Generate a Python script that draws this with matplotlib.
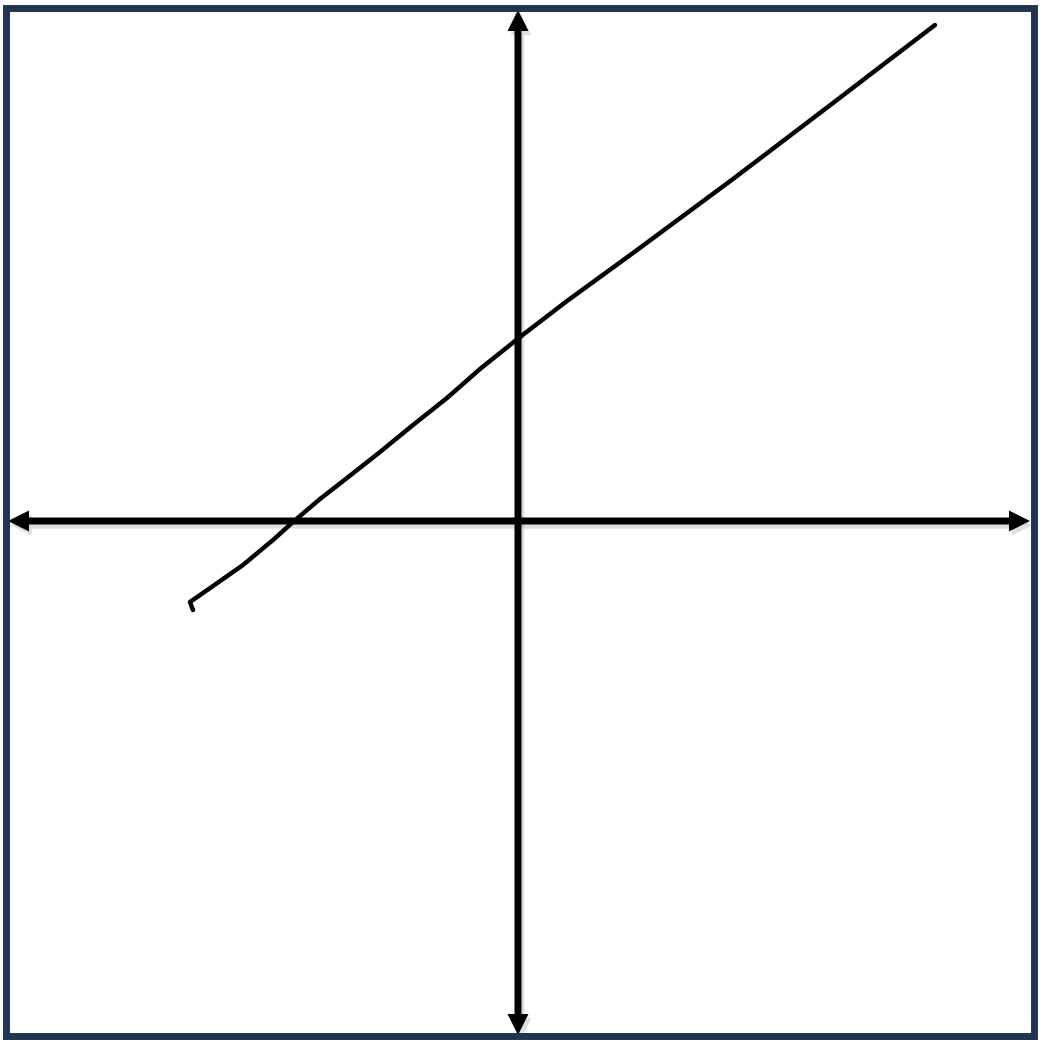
import matplotlib
matplotlib.use("Agg")
import matplotlib.pyplot as plt
import matplotlib.patches as mpatches
import matplotlib.patheffects as pe

# hand drawn line (1 unit = 100 px, origin where the axes cross)
line_x = [-3.25, -3.28, -3.05, -2.75, -2.45, -2.25, -1.98, -1.71, -1.38, -1.05,
          -0.71, -0.38, 0.02, 0.49, 1.15, 1.65, 2.15, 2.65, 3.15, 3.62, 4.17]
line_y = [-0.89, -0.81, -0.65, -0.44, -0.19, -0.01, 0.22, 0.43, 0.69, 0.96,
          1.23, 1.52, 1.84, 2.20, 2.68, 3.05, 3.42, 3.80, 4.18, 4.54, 4.96]

# where the arrow tips of the axes end
x_tips = [-5.10, 5.12]
y_tips = [-5.14, 5.11]

fig = plt.figure(figsize=(10.4, 10.42), dpi=100)
ax = fig.add_axes([0, 0, 1, 1])
ax.set_xlim(-5.18, 5.22)
ax.set_ylim(-5.21, 5.21)
ax.axis("off")


def double_arrow(a, b, vertical, z, effects=None):
    hl, hw, sw = 0.21, 0.105, 0.035
    pts = [(a, 0), (a + hl, hw), (a + hl, sw), (b - hl, sw), (b - hl, hw),
           (b, 0), (b - hl, -hw), (b - hl, -sw), (a + hl, -sw), (a + hl, -hw)]
    if vertical:
        pts = [(v, u) for u, v in pts]
    ax.add_patch(mpatches.Polygon(pts, closed=True, facecolor="black", lw=0,
                                  zorder=z, path_effects=effects))


# soft shadow under, black arrows on top
shadow = [pe.SimplePatchShadow(offset=(2, -3), shadow_rgbFace="gray", alpha=0.25)]
double_arrow(x_tips[0], x_tips[1], False, 1, shadow)
double_arrow(y_tips[0], y_tips[1], True, 1, shadow)
double_arrow(x_tips[0], x_tips[1], False, 2)
double_arrow(y_tips[0], y_tips[1], True, 2)

ax.plot(line_x, line_y, color="black", lw=3.2, solid_capstyle="round",
        solid_joinstyle="round", zorder=3)

# dark frame round the picture
ax.add_patch(mpatches.Rectangle((-5.125, -5.145), 10.28, 10.28, fill=False,
                                edgecolor="#1f3553", lw=5, zorder=4))

fig.savefig("out.png", dpi=100, facecolor="white")
